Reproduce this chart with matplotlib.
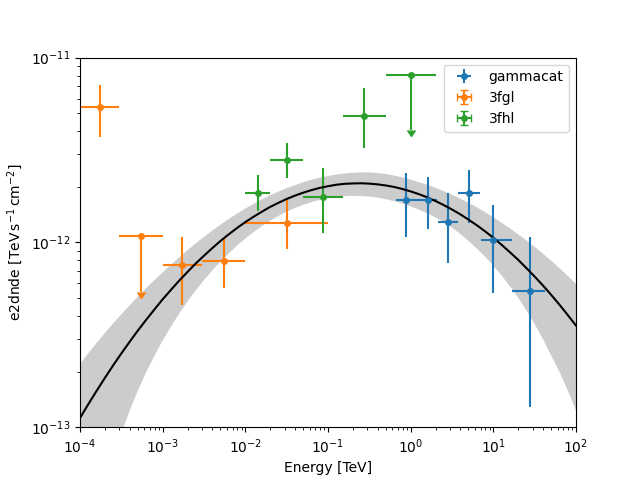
import numpy as np
import matplotlib
matplotlib.use("Agg")
import matplotlib.pyplot as plt

# flux points (energy in TeV, e2dnde in TeV s-1 cm-2)
gc_energy = [0.870, 1.62, 2.83, 5.05, 10.0, 27.7]
gc_emin = [0.658, 1.18, 2.14, 3.74, 7.05, 16.7]
gc_emax = [1.18, 2.11, 3.74, 6.92, 16.6, 42.1]
gc_e2dnde = [1.70e-12, 1.70e-12, 1.29e-12, 1.85e-12, 1.03e-12, 5.46e-13]
gc_hi = [2.37e-12, 2.26e-12, 1.85e-12, 2.47e-12, 1.60e-12, 1.07e-12]
gc_lo = [1.07e-12, 1.18e-12, 7.76e-13, 1.28e-12, 5.31e-13, 1.28e-13]
gc_ul = [False] * 6

fgl_energy = [1.73e-4, 5.48e-4, 1.73e-3, 5.48e-3, 3.16e-2]
fgl_emin = [1e-4, 3e-4, 1e-3, 3e-3, 1e-2]
fgl_emax = [3e-4, 1e-3, 3e-3, 1e-2, 1e-1]
fgl_e2dnde = [5.41e-12, 1.08e-12, 7.55e-13, 7.94e-13, 1.28e-12]
fgl_hi = [7.14e-12, np.nan, 1.07e-12, 1.05e-12, 1.69e-12]
fgl_lo = [3.70e-12, np.nan, 4.58e-13, 5.65e-13, 9.18e-13]
fgl_ul = [False, True, False, False, False]

fhl_energy = [0.0141, 0.0316, 0.0866, 0.274, 1.0]
fhl_emin = [0.01, 0.02, 0.05, 0.15, 0.5]
fhl_emax = [0.02, 0.05, 0.15, 0.5, 2.0]
fhl_e2dnde = [1.86e-12, 2.80e-12, 1.76e-12, 4.86e-12, 8.09e-12]
fhl_hi = [2.32e-12, 3.46e-12, 2.52e-12, 6.86e-12, np.nan]
fhl_lo = [1.47e-12, 2.23e-12, 1.12e-12, 3.25e-12, np.nan]
fhl_ul = [False, False, False, False, True]

# model and error band, log10(e2dnde) read every 0.1 decade from 1e-4 to 1e2 TeV
model_log_energy = np.linspace(-4, 2, 61)
model_log = [
    -12.950, -12.876, -12.804, -12.734, -12.666, -12.601, -12.538, -12.477, -12.419, -12.363,
    -12.308, -12.257, -12.207, -12.160, -12.114, -12.072, -12.031, -11.992, -11.956, -11.922,
    -11.890, -11.861, -11.834, -11.808, -11.786, -11.765, -11.747, -11.731, -11.717, -11.705,
    -11.696, -11.688, -11.683, -11.681, -11.680, -11.682, -11.686, -11.692, -11.700, -11.711,
    -11.724, -11.739, -11.756, -11.776, -11.798, -11.822, -11.848, -11.877, -11.907, -11.940,
    -11.975, -12.013, -12.053, -12.094, -12.139, -12.185, -12.233, -12.284, -12.337, -12.393,
    -12.450,
]
band_hi_log = [
    -12.658, -12.600, -12.544, -12.491, -12.439, -12.389, -12.341, -12.294, -12.248, -12.204,
    -12.162, -12.121, -12.081, -12.042, -12.006, -11.970, -11.936, -11.904, -11.873, -11.844,
    -11.817, -11.791, -11.767, -11.745, -11.725, -11.706, -11.690, -11.674, -11.661, -11.650,
    -11.641, -11.633, -11.627, -11.623, -11.621, -11.621, -11.624, -11.630, -11.638, -11.648,
    -11.660, -11.674, -11.688, -11.704, -11.722, -11.742, -11.763, -11.786, -11.810, -11.836,
    -11.864, -11.893, -11.924, -11.956, -11.989, -12.024, -12.061, -12.099, -12.139, -12.181,
    -12.224,
]
band_lo_log = [
    -14.318, -13.816, -13.539, -13.336, -13.172, -13.033, -12.911, -12.802, -12.703, -12.614,
    -12.531, -12.456, -12.385, -12.320, -12.260, -12.204, -12.152, -12.104, -12.059, -12.017,
    -11.979, -11.944, -11.912, -11.883, -11.857, -11.833, -11.814, -11.797, -11.782, -11.770,
    -11.761, -11.754, -11.750, -11.748, -11.749, -11.752, -11.758, -11.766, -11.777, -11.790,
    -11.805, -11.823, -11.843, -11.865, -11.889, -11.920, -11.954, -11.992, -12.033, -12.077,
    -12.126, -12.179, -12.237, -12.299, -12.368, -12.442, -12.523, -12.613, -12.700, -12.800,
    -12.910,
]


def plot_points(ax, energy, emin, emax, val, hi, lo, ul, label):
    energy = np.array(energy)
    val = np.array(val)
    ul = np.array(ul)
    xerr = [energy - np.array(emin), np.array(emax) - energy]
    # upper limits: arrow drawn down to half the value
    yerr_lo = np.where(ul, 0.5 * val, val - np.array(lo))
    yerr_hi = np.where(ul, 0.0, np.array(hi) - val)
    ax.errorbar(energy, val, xerr=xerr, yerr=[yerr_lo, yerr_hi],
                uplims=ul, marker="o", markersize=4, linestyle="none",
                label=label)


fig, ax = plt.subplots(figsize=(6.4, 4.8), dpi=100)

plot_points(ax, gc_energy, gc_emin, gc_emax, gc_e2dnde, gc_hi, gc_lo, gc_ul, "gammacat")
plot_points(ax, fgl_energy, fgl_emin, fgl_emax, fgl_e2dnde, fgl_hi, fgl_lo, fgl_ul, "3fgl")
plot_points(ax, fhl_energy, fhl_emin, fhl_emax, fhl_e2dnde, fhl_hi, fhl_lo, fhl_ul, "3fhl")

energy = 10 ** model_log_energy
ax.fill_between(energy, 10 ** np.array(band_lo_log), 10 ** np.array(band_hi_log),
                facecolor="black", alpha=0.2, linewidth=0)
ax.plot(energy, 10 ** np.array(model_log), color="black", lw=1.5)

ax.set_xscale("log")
ax.set_yscale("log")
ax.set_xlim(1e-4, 1e2)
ax.set_ylim(1e-13, 1e-11)
ax.set_xlabel("Energy [TeV]")
ax.set_ylabel(r"e2dnde [$\mathrm{TeV\,s^{-1}\,cm^{-2}}$]")
ax.legend(loc="upper right")

fig.savefig("out.png")
